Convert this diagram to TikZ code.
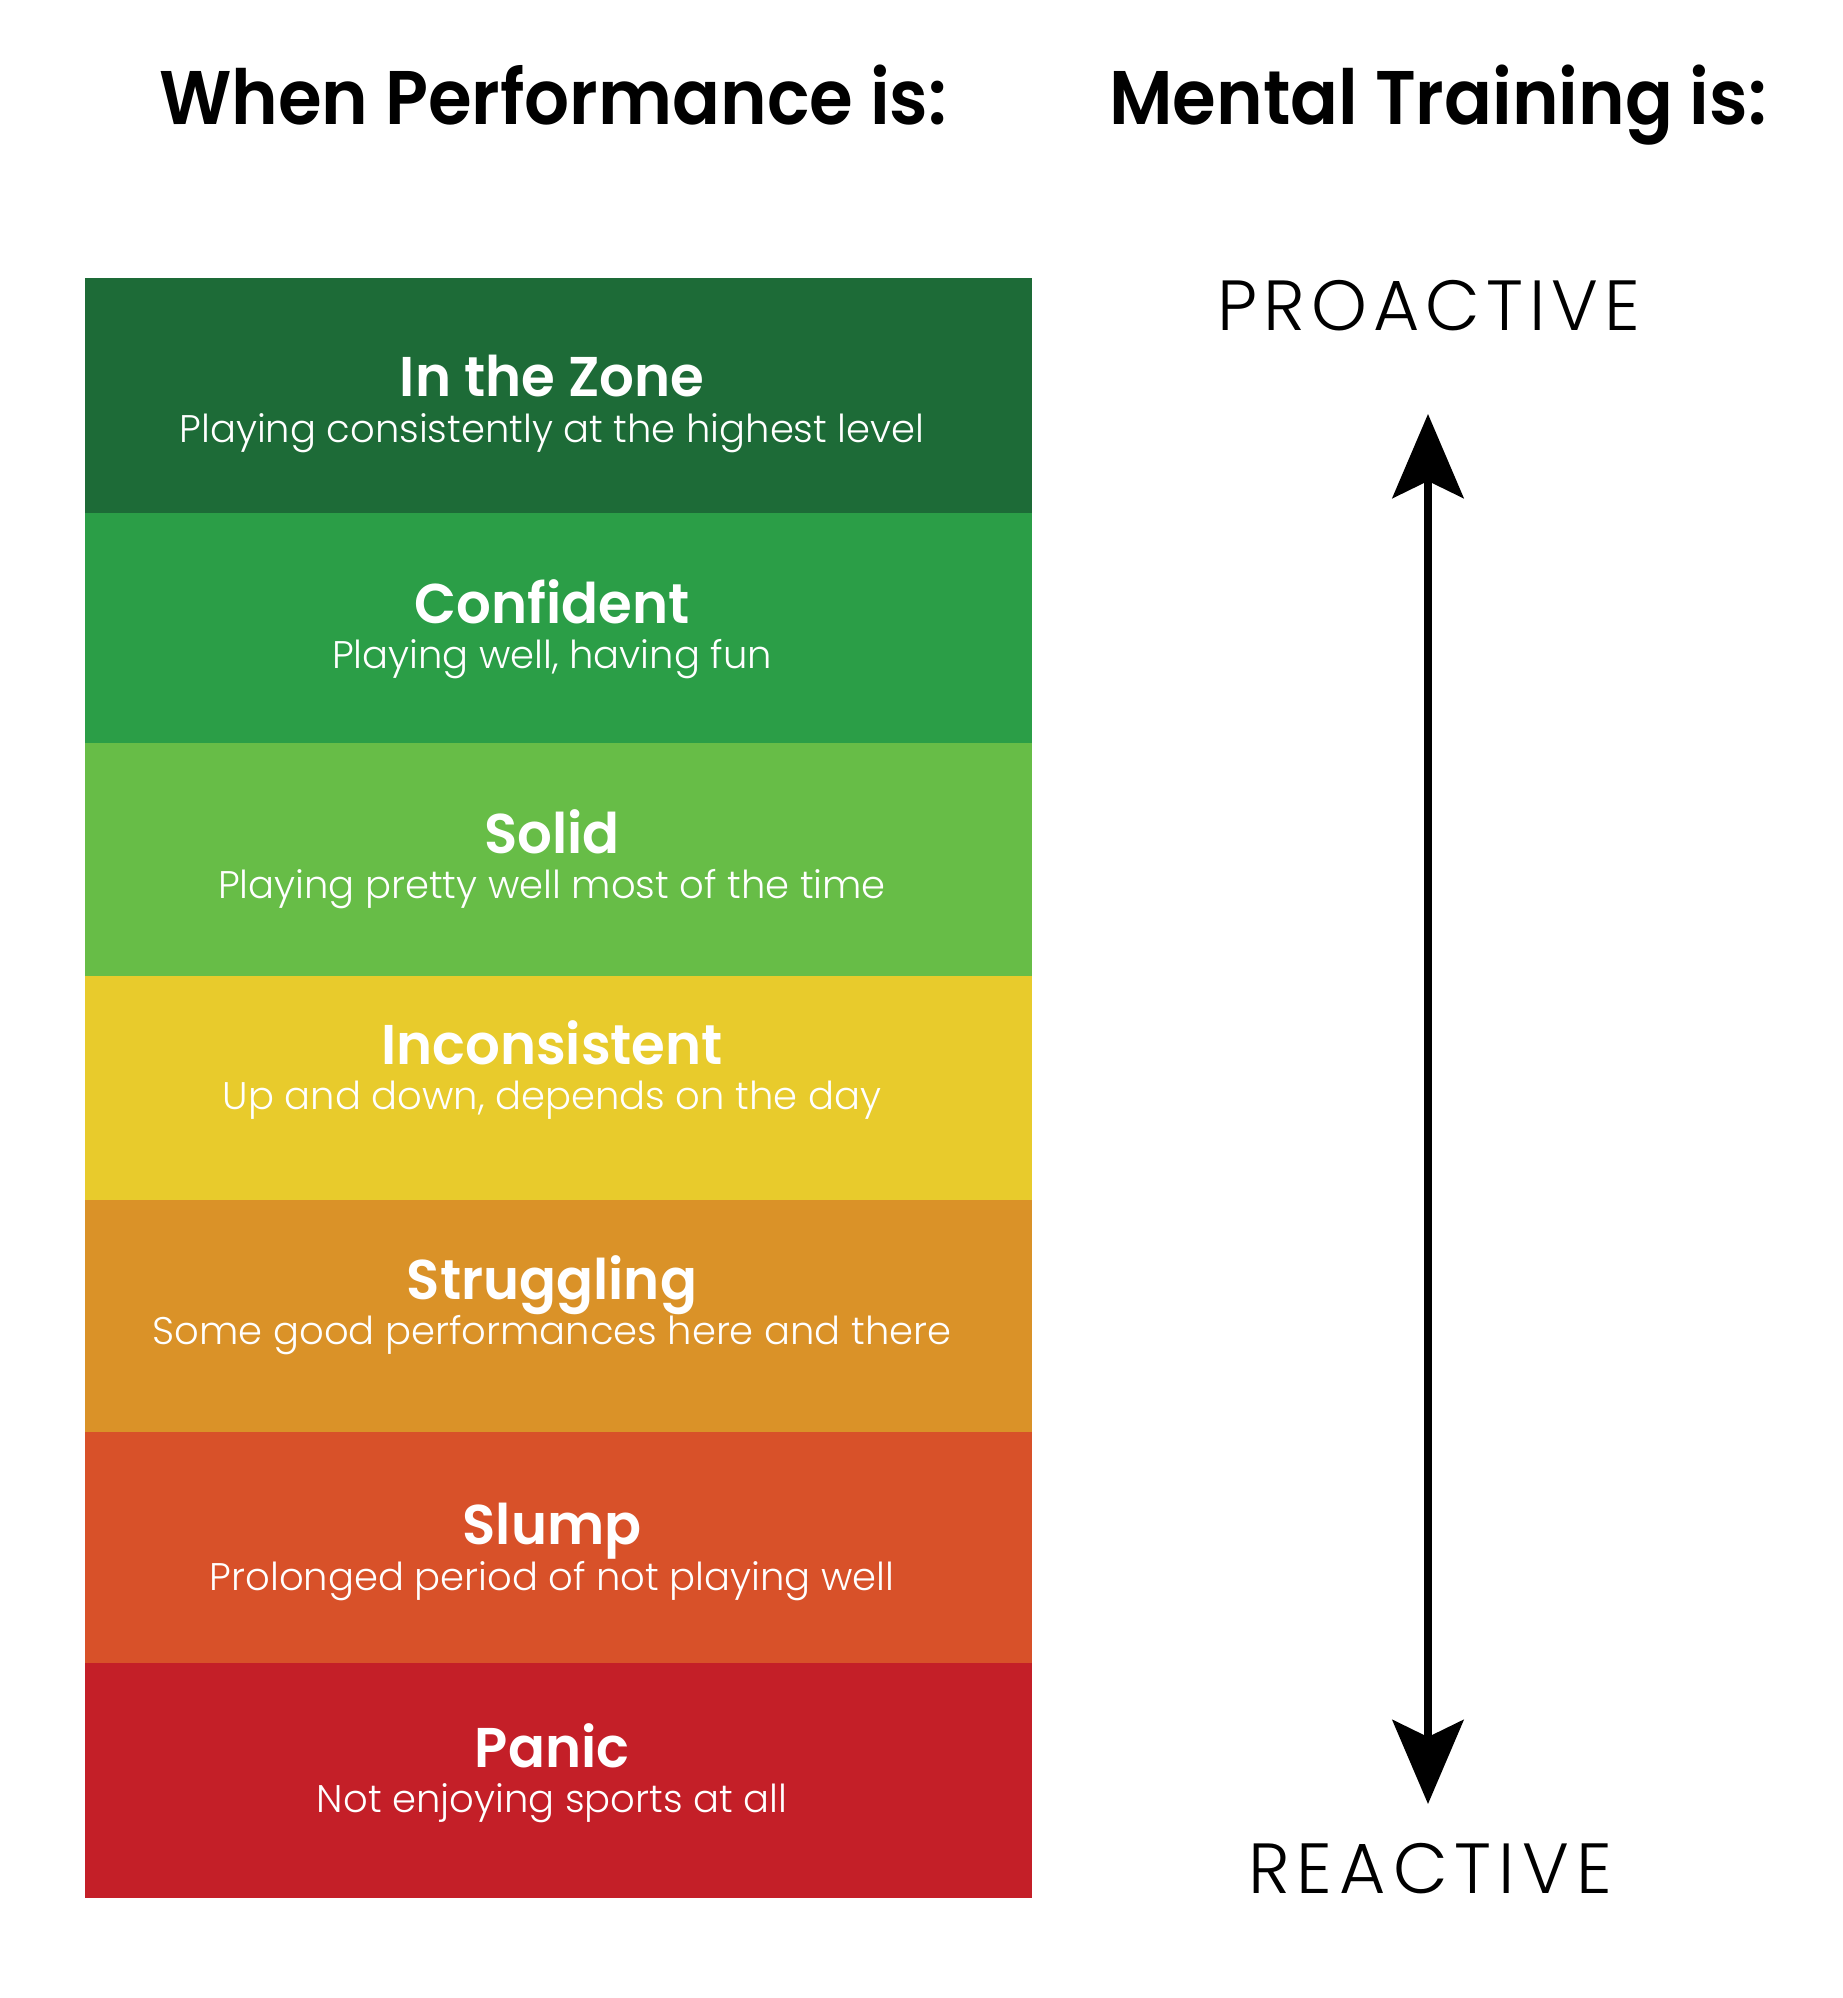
\documentclass[tikz,border=0pt]{standalone}
\usepackage{fontspec}
\setmainfont{Poppins}
\IfFontExistsTF{Poppins SemiBold}
  {\newfontfamily\headfont[FakeStretch=0.93]{Poppins SemiBold}
   \newfontfamily\titlefont[FakeStretch=0.975]{Poppins SemiBold}}
  {\newfontfamily\headfont[FakeStretch=0.91]{Poppins}[BoldFont=*]
   \newfontfamily\titlefont[FakeStretch=0.95]{Poppins}}
\IfFontExistsTF{Poppins Light}
  {\newfontfamily\subfont{Poppins Light}
   \newfontfamily\profont[LetterSpace=8.5]{Poppins Light}
   \newfontfamily\reafont[LetterSpace=10]{Poppins Light}}
  {\newfontfamily\subfont{Poppins}
   \newfontfamily\profont[LetterSpace=8.5]{Poppins}
   \newfontfamily\reafont[LetterSpace=10]{Poppins}}
\usetikzlibrary{arrows.meta}
\definecolor{czone}{HTML}{1D6B37}
\definecolor{cconf}{HTML}{2B9E47}
\definecolor{csolid}{HTML}{67BD47}
\definecolor{cincon}{HTML}{E8CB2C}
\definecolor{cstrug}{HTML}{DA9228}
\definecolor{cslump}{HTML}{D85129}
\definecolor{cpanic}{HTML}{C41F28}
\tikzset{
  heading/.style={anchor=base,inner sep=0pt,font=\headfont\fontsize{76}{80}\selectfont},
  bandtitle/.style={anchor=base,inner sep=0pt,text=white,font=\titlefont\fontsize{56}{60}\selectfont},
  bandsub/.style={anchor=base,inner sep=0pt,text=white,font=\subfont\fontsize{38.5}{42}\selectfont},
  pole/.style={anchor=base,inner sep=0pt},
  arr/.style={line width=8pt,{Stealth[length=84pt,width=71pt,inset=17pt]}-{Stealth[length=84pt,width=71pt,inset=17pt]}}
}
\begin{document}
\begin{tikzpicture}[x=1pt,y=-1pt]
\useasboundingbox[fill=white] (0,0) rectangle (1843,1998);
% bands
\fill[czone]  (85,278)  rectangle (1032,513);
\fill[cconf]  (85,513)  rectangle (1032,743);
\fill[csolid] (85,743)  rectangle (1032,976);
\fill[cincon] (85,976)  rectangle (1032,1200);
\fill[cstrug] (85,1200) rectangle (1032,1432);
\fill[cslump] (85,1432) rectangle (1032,1663);
\fill[cpanic] (85,1663) rectangle (1032,1898);
% headings
\node[heading] (h1) at (553,124) {When Performance is:};
\node[heading] (h2) at (1438,124) {Mental Training is:};
% band texts
\node[bandtitle] (t1) at (552,396) {In the Zone};
\node[bandsub]   (s1) at (552,442) {Playing consistently at the highest level};
\node[bandtitle] (t2) at (552,623) {Confident};
\node[bandsub]   (s2) at (552,668) {Playing well, having fun};
\node[bandtitle] (t3) at (552,853) {Solid};
\node[bandsub]   (s3) at (552,898) {Playing pretty well most of the time};
\node[bandtitle] (t4) at (552,1064) {Inconsistent};
\node[bandsub]   (s4) at (552,1109) {Up and down, depends on the day};
\node[bandtitle] (t5) at (552,1299) {Struggling};
\node[bandsub]   (s5) at (552,1344) {Some good performances here and there};
\node[bandtitle] (t6) at (552,1544) {Slump};
\node[bandsub]   (s6) at (552,1590) {Prolonged period of not playing well};
\node[bandtitle] (t7) at (552,1767) {Panic};
\node[bandsub]   (s7) at (552,1812) {Not enjoying sports at all};
% poles
\node[pole,font=\profont\fontsize{71}{75}\selectfont] (pro) at (1429,330) {PROACTIVE};
\node[pole,font=\reafont\fontsize{71}{75}\selectfont] (rea) at (1430,1893) {REACTIVE};
\coordinate (atop) at (1428,414);
\coordinate (abot) at (1428,1804);
\draw[arr] (abot) -- (atop);
\end{tikzpicture}
\end{document}
